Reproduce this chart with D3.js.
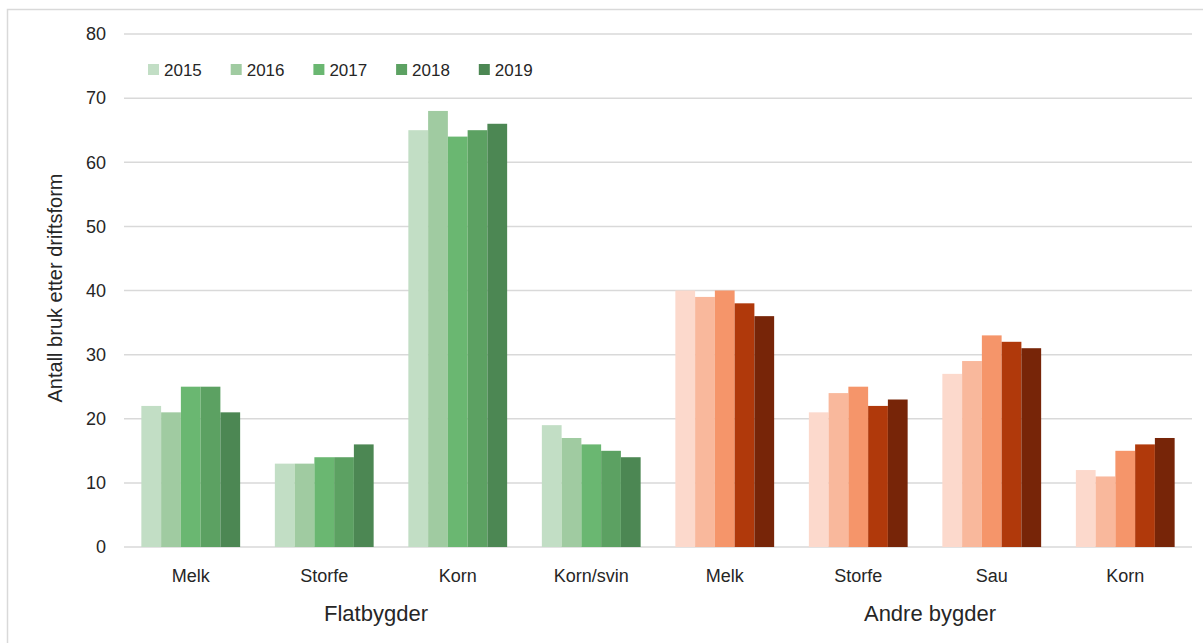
<!DOCTYPE html>
<html>
<head>
<meta charset="utf-8">
<script src="https://cdn.jsdelivr.net/npm/d3@7"></script>
<style>
  body { margin: 0; background: #fff; }
  text { font-family: "Liberation Sans", Arial, sans-serif; fill: #262626; }
</style>
</head>
<body>
<div id="chart"></div>
<script>
// data
var years = ["2015", "2016", "2017", "2018", "2019"];
var categories = ["Melk", "Storfe", "Korn", "Korn/svin", "Melk", "Storfe", "Sau", "Korn"];
var regions = ["Flatbygder", "Flatbygder", "Flatbygder", "Flatbygder",
               "Andre bygder", "Andre bygder", "Andre bygder", "Andre bygder"];
var values = [
  [22, 21, 25, 25, 21],
  [13, 13, 14, 14, 16],
  [65, 68, 64, 65, 66],
  [19, 17, 16, 15, 14],
  [40, 39, 40, 38, 36],
  [21, 24, 25, 22, 23],
  [27, 29, 33, 32, 31],
  [12, 11, 15, 16, 17]
];
var yTicks = [0, 10, 20, 30, 40, 50, 60, 70, 80];
var greens = ["#c2dec5", "#a0cba1", "#6ab771", "#5ca162", "#4c8753"];
var oranges = ["#fcd9cc", "#f9b89c", "#f5956a", "#b0390b", "#772508"];

var W = 1203, H = 643;
var margin = {top: 34, right: 11, bottom: 96, left: 124};
var width = W - margin.left - margin.right,
    height = H - margin.top - margin.bottom;

var svg = d3.select("#chart").append("svg")
    .attr("width", W)
    .attr("height", H);

// outer frame
svg.append("rect")
    .attr("x", 7.5).attr("y", 9.5)
    .attr("width", W + 10).attr("height", H + 10)
    .attr("fill", "none")
    .attr("stroke", "#d9d9d9")
    .attr("stroke-width", 1.5);

var g = svg.append("g")
    .attr("transform", "translate(" + margin.left + "," + margin.top + ")");

var idx = d3.range(categories.length);

var x = d3.scaleBand()
    .domain(idx)
    .range([0, width])
    .paddingInner(0.26)
    .paddingOuter(0.13);

var xInner = d3.scaleBand()
    .domain(years)
    .range([0, x.bandwidth()]);

var y = d3.scaleLinear()
    .domain([0, 80])
    .range([height, 0]);

// gridlines
g.append("g")
    .selectAll("line")
    .data(yTicks)
    .enter().append("line")
    .attr("x1", 0).attr("x2", width)
    .attr("y1", function(d) { return y(d); })
    .attr("y2", function(d) { return y(d); })
    .attr("stroke", "#d9d9d9")
    .attr("stroke-width", 1.5);

// y axis labels
var yAxis = g.append("g")
    .call(d3.axisLeft(y).tickValues(yTicks).tickSize(0).tickPadding(18));
yAxis.select(".domain").remove();
yAxis.selectAll("text")
    .style("font-size", "18px")
    .style("font-family", "'Liberation Sans', Arial, sans-serif")
    .attr("fill", "#262626");

// bars
var groups = g.selectAll(".cat")
    .data(idx)
    .enter().append("g")
    .attr("class", "cat")
    .attr("transform", function(i) { return "translate(" + x(i) + ",0)"; });

groups.selectAll("rect")
    .data(function(i) {
        return years.map(function(yr, j) {
            return {year: yr, value: values[i][j], color: (i < 4 ? greens : oranges)[j]};
        });
    })
    .enter().append("rect")
    .attr("x", function(d) { return xInner(d.year); })
    .attr("width", xInner.bandwidth())
    .attr("y", function(d) { return y(d.value); })
    .attr("height", function(d) { return height - y(d.value); })
    .attr("fill", function(d) { return d.color; });

// category labels
g.append("g")
    .selectAll("text")
    .data(idx)
    .enter().append("text")
    .attr("x", function(i) { return x(i) + x.bandwidth() / 2; })
    .attr("y", height + 35)
    .attr("text-anchor", "middle")
    .style("font-size", "18px")
    .text(function(i) { return categories[i]; });

// region labels (Excel places them a bit off the group centre)
var regionNames = ["Flatbygder", "Andre bygder"];
var regionShift = {"Flatbygder": -15, "Andre bygder": 5};
g.append("g")
    .selectAll("text")
    .data(regionNames)
    .enter().append("text")
    .attr("x", function(r) {
        var ii = idx.filter(function(i) { return regions[i] === r; });
        return (x(ii[0]) + x(ii[ii.length - 1]) + x.bandwidth()) / 2 + regionShift[r];
    })
    .attr("y", height + 74)
    .attr("text-anchor", "middle")
    .style("font-size", "22px")
    .text(function(r) { return r; });

// y axis title
svg.append("text")
    .attr("transform", "translate(62," + 288 + ") rotate(-90)")
    .attr("text-anchor", "middle")
    .style("font-size", "20px")
    .text("Antall bruk etter driftsform");

// legend
var legend = svg.append("g")
    .attr("transform", "translate(148,64)");
var items = legend.selectAll("g")
    .data(years)
    .enter().append("g")
    .attr("transform", function(d, i) { return "translate(" + (i * 82.7) + ",0)"; });
items.append("rect")
    .attr("width", 11).attr("height", 11)
    .attr("fill", function(d, i) { return greens[i]; });
items.append("text")
    .attr("x", 16).attr("y", 11.5)
    .style("font-size", "17px")
    .text(function(d) { return d; });
</script>
</body>
</html>
